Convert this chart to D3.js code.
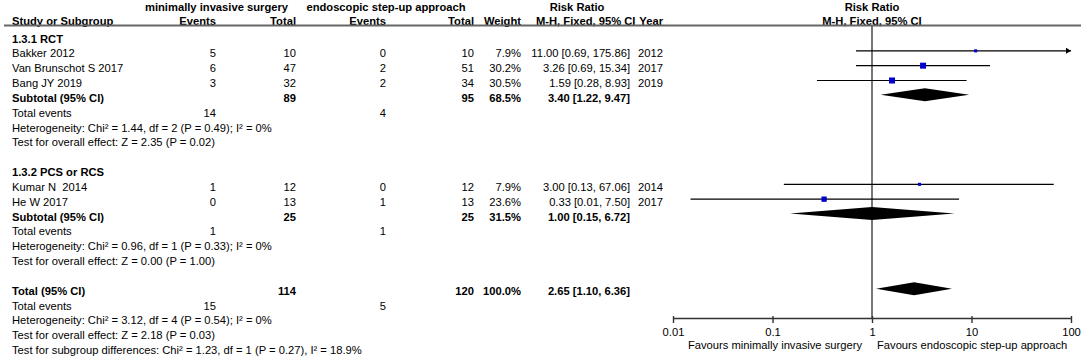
<!DOCTYPE html>
<html><head><meta charset="utf-8">
<script src="https://cdn.jsdelivr.net/npm/d3@7"></script>
<style>
body{margin:0;background:#fff}
svg text{font-family:"Liberation Sans",Arial,sans-serif;font-size:11.2px;fill:#000;white-space:pre}
.b{font-weight:bold}
</style>
</head><body>
<svg id="c" width="1084" height="363"></svg>
<script>
// ---- data ----
const groupNames = ["1.3.1 RCT", "1.3.2 PCS or RCS"];
const studies = ["Bakker 2012", "Van Brunschot S 2017", "Bang JY 2019", "Kumar N  2014", "He W 2017"];
const studyGroup = [0, 0, 0, 1, 1];
const misEvents = [5, 6, 3, 1, 0];
const misTotal = [10, 47, 32, 12, 13];
const endoEvents = [0, 2, 2, 0, 1];
const endoTotal = [10, 51, 34, 12, 13];
const weights = [7.9, 30.2, 30.5, 7.9, 23.6];
const rr = [11.00, 3.26, 1.59, 3.00, 0.33];
const ciLow = [0.69, 0.69, 0.28, 0.13, 0.015];
const ciHigh = [175.86, 15.34, 8.93, 67.06, 7.50];
const ciText = ["11.00 [0.69, 175.86]", "3.26 [0.69, 15.34]", "1.59 [0.28, 8.93]", "3.00 [0.13, 67.06]", "0.33 [0.01, 7.50]"];
const years = [2012, 2017, 2019, 2014, 2017];

const subMisTotal = [89, 25];
const subEndoTotal = [95, 25];
const subWeight = ["68.5%", "31.5%"];
const subRR = [3.40, 1.00];
const subLow = [1.22, 0.15];
const subHigh = [9.47, 6.72];
const subCiText = ["3.40 [1.22, 9.47]", "1.00 [0.15, 6.72]"];
const subMisEvents = [14, 1];
const subEndoEvents = [4, 1];
const subHet = ["Heterogeneity: Chi² = 1.44, df = 2 (P = 0.49); I² = 0%", "Heterogeneity: Chi² = 0.96, df = 1 (P = 0.33); I² = 0%"];
const subTest = ["Test for overall effect: Z = 2.35 (P = 0.02)", "Test for overall effect: Z = 0.00 (P = 1.00)"];

const totMisTotal = 114, totEndoTotal = 120, totWeight = "100.0%";
const totRR = 2.65, totLow = 1.10, totHigh = 6.36, totCiText = "2.65 [1.10, 6.36]";
const totMisEvents = 15, totEndoEvents = 5;
const totHet = "Heterogeneity: Chi² = 3.12, df = 4 (P = 0.54); I² = 0%";
const totTest = "Test for overall effect: Z = 2.18 (P = 0.03)";
const subgroupTest = "Test for subgroup differences: Chi² = 1.23, df = 1 (P = 0.27), I² = 18.9%";

const tickValues = [0.01, 0.1, 1, 10, 100];
const tickLabels = ["0.01", "0.1", "1", "10", "100"];
const favourLeft = "Favours minimally invasive surgery";
const favourRight = "Favours endoscopic step-up approach";

// ---- layout ----
const svg = d3.select("#c");
const x = d3.scaleLog().domain([0.01, 100]).range([673, 1071]);
const y = d3.scaleLinear().domain([0, 21]).range([38.5, 350]); // text centre of row index
const sq = d3.scaleSqrt().domain([0, 30.5]).range([0, 6]);
const col = {label: 12, misE: 216, misT: 296, endoE: 386, endoT: 474, w: 521, ci: 630, yr: 663};

function txt(xp, yc, s, anchor, bold) {
  svg.append("text").attr("x", xp).attr("y", yc + 4).attr("text-anchor", anchor || "start")
    .attr("class", bold ? "b" : null).text(s);
}

// headers
txt(216.5, 7.3, "minimally invasive surgery", "middle", true);
txt(386, 7.3, "endoscopic step-up approach", "middle", true);
txt(577, 7.3, "Risk Ratio", "middle", true);
txt(x(1), 7.3, "Risk Ratio", "middle", true);
txt(col.label, 20.5, "Study or Subgroup", "start", true);
txt(col.misE, 20.5, "Events", "end", true);
txt(col.misT, 20.5, "Total", "end", true);
txt(col.endoE, 20.5, "Events", "end", true);
txt(col.endoT, 20.5, "Total", "end", true);
txt(col.w, 20.5, "Weight", "end", true);
txt(536, 20.5, "M-H, Fixed, 95% CI", "start", true);
txt(col.yr, 20.5, "Year", "end", true);
txt(x(1), 20.5, "M-H, Fixed, 95% CI", "middle", true);

svg.append("line").attr("x1", 4).attr("x2", 1081).attr("y1", 25.5).attr("y2", 25.5)
  .attr("stroke", "#666").attr("stroke-width", 2);

// vertical line of no effect
const axisY = 318;
svg.append("line").attr("x1", x(1)).attr("x2", x(1)).attr("y1", 26).attr("y2", axisY)
  .attr("stroke", "#555").attr("stroke-width", 1.6);

function diamond(r, lo, hi, yc) {
  const h = 6.5;
  svg.append("path").attr("d",
    `M${x(lo)},${yc}L${x(r)},${yc - h}L${x(hi)},${yc}L${x(r)},${yc + h}Z`).attr("fill", "#000");
}

const groupStart = [0, 9];
groupNames.forEach((g, gi) => {
  const s = groupStart[gi];
  txt(col.label, y(s), g, "start", true);
  const idx = studies.map((d, i) => i).filter(i => studyGroup[i] === gi);
  idx.forEach((i, k) => {
    const r = s + 1 + k;
    const yc = y(r);
    txt(col.label, yc, studies[i]);
    txt(col.misE, yc, misEvents[i], "end");
    txt(col.misT, yc, misTotal[i], "end");
    txt(col.endoE, yc, endoEvents[i], "end");
    txt(col.endoT, yc, endoTotal[i], "end");
    txt(col.w, yc, weights[i].toFixed(1) + "%", "end");
    txt(col.ci, yc, ciText[i], "end");
    txt(col.yr, yc, years[i], "end");
    const my = yc - 2.5;
    const hiC = Math.min(ciHigh[i], 100), loC = Math.max(ciLow[i], 0.01);
    svg.append("line").attr("x1", x(loC)).attr("x2", x(hiC)).attr("y1", my).attr("y2", my)
      .attr("stroke", "#000").attr("stroke-width", 1.2);
    if (ciHigh[i] > 100) {
      const xe = x(100);
      svg.append("path").attr("d", `M${xe - 5},${my - 3}L${xe},${my}L${xe - 5},${my + 3}Z`).attr("fill", "#000");
    }
    const s2 = sq(weights[i]);
    svg.append("rect").attr("x", x(rr[i]) - s2 / 2).attr("y", my - s2 / 2)
      .attr("width", s2).attr("height", s2).attr("fill", "#0000cc");
  });
  const rs = s + 1 + idx.length;
  const yc = y(rs);
  txt(col.label, yc, "Subtotal (95% CI)", "start", true);
  txt(col.misT, yc, subMisTotal[gi], "end", true);
  txt(col.endoT, yc, subEndoTotal[gi], "end", true);
  txt(col.w, yc, subWeight[gi], "end", true);
  txt(col.ci, yc, subCiText[gi], "end", true);
  diamond(subRR[gi], subLow[gi], subHigh[gi], yc - 3);
  txt(col.label, y(rs + 1), "Total events");
  txt(col.misE, y(rs + 1), subMisEvents[gi], "end");
  txt(col.endoE, y(rs + 1), subEndoEvents[gi], "end");
  txt(col.label, y(rs + 2), subHet[gi]);
  txt(col.label, y(rs + 3), subTest[gi]);
});

// overall
txt(col.label, y(17), "Total (95% CI)", "start", true);
txt(col.misT, y(17), totMisTotal, "end", true);
txt(col.endoT, y(17), totEndoTotal, "end", true);
txt(col.w, y(17), totWeight, "end", true);
txt(col.ci, y(17), totCiText, "end", true);
diamond(totRR, totLow, totHigh, y(17) - 2);
txt(col.label, y(18), "Total events");
txt(col.misE, y(18), totMisEvents, "end");
txt(col.endoE, y(18), totEndoEvents, "end");
txt(col.label, y(19), totHet);
txt(col.label, y(20), totTest);
txt(col.label, y(21), subgroupTest);

// axis
const ax = svg.append("g").attr("transform", `translate(0,${axisY})`)
  .call(d3.axisBottom(x).tickValues(tickValues).tickFormat((d, i) => tickLabels[i])
    .tickSize(5).tickSizeOuter(0).tickPadding(5));
ax.select(".domain").attr("stroke", "#333").attr("stroke-width", 1.4);
ax.selectAll(".tick line").attr("y1", -2).attr("stroke", "#333").attr("stroke-width", 1.4);
ax.selectAll(".tick text").attr("font-size", null).attr("font-family", null).style("font-size", "11.2px");

txt(x(1) - 10, 345, favourLeft, "end");
txt(x(1) + 5, 345, favourRight, "start");
</script>
</body></html>
